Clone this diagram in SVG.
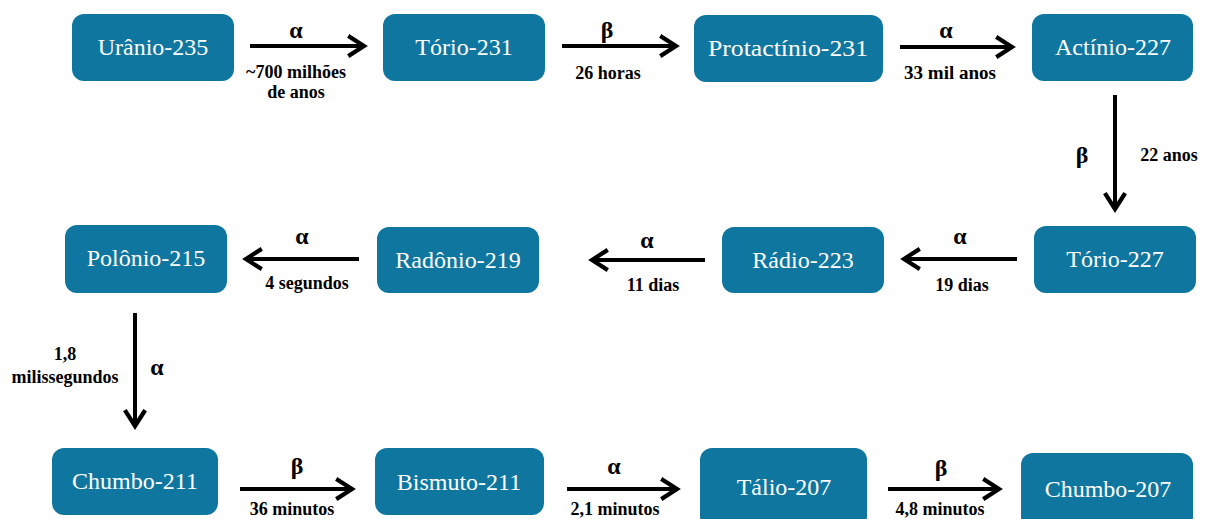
<svg xmlns="http://www.w3.org/2000/svg" width="1207" height="519" viewBox="0 0 1207 519">
<defs>
<marker id="ah" markerUnits="userSpaceOnUse" viewBox="-20 -12 24 24" refX="0" refY="0" markerWidth="24" markerHeight="24" orient="auto">
<path d="M-14,-9 L0,0 L-14,9" fill="none" stroke="#000" stroke-width="4.2" stroke-linecap="square" stroke-linejoin="miter"/>
</marker>
<style>
.box{fill:#0F76A0;}
.nt{fill:#fff;text-anchor:middle;}
.ar{stroke:#000;stroke-width:4;fill:none;marker-end:url(#ah);}
.gk{font-weight:bold;fill:#000;text-anchor:middle;}
.lb{font-weight:bold;fill:#000;text-anchor:middle;}
</style>
</defs>
<rect width="1207" height="519" fill="#fff"/>
<g id="n1"><rect class="box" x="72" y="14" width="162" height="67" rx="12"/><text class="nt" font-family="Liberation Serif" font-size="24" x="153" y="55">Urânio-235</text></g>
<g id="n2"><rect class="box" x="383" y="14" width="162" height="67" rx="12"/><text class="nt" font-family="Liberation Serif" font-size="24" x="464" y="55">Tório-231</text></g>
<g id="n3"><rect class="box" x="694" y="15" width="189" height="67" rx="12"/><text class="nt" font-family="Liberation Serif" font-size="24" x="788" y="56" textLength="160" lengthAdjust="spacingAndGlyphs">Protactínio-231</text></g>
<g id="n4"><rect class="box" x="1032" y="14" width="161" height="67" rx="12"/><text class="nt" font-family="Liberation Serif" font-size="24" x="1113" y="55">Actínio-227</text></g>
<g id="n5"><rect class="box" x="1034" y="226" width="162" height="67" rx="12"/><text class="nt" font-family="Liberation Serif" font-size="24" x="1115" y="267">Tório-227</text></g>
<g id="n6"><rect class="box" x="722" y="227" width="162" height="66" rx="12"/><text class="nt" font-family="Liberation Serif" font-size="24" x="803" y="268">Rádio-223</text></g>
<g id="n7"><rect class="box" x="377" y="227" width="162" height="66" rx="12"/><text class="nt" font-family="Liberation Serif" font-size="24" x="458" y="268">Radônio-219</text></g>
<g id="n8"><rect class="box" x="65" y="225" width="162" height="68" rx="12"/><text class="nt" font-family="Liberation Serif" font-size="24" x="146" y="266">Polônio-215</text></g>
<g id="n9"><rect class="box" x="52" y="448" width="166" height="67" rx="12"/><text class="nt" font-family="Liberation Serif" font-size="24" x="135" y="489">Chumbo-211</text></g>
<g id="n10"><rect class="box" x="375" y="448" width="169" height="67" rx="12"/><text class="nt" font-family="Liberation Serif" font-size="24" x="459" y="490">Bismuto-211</text></g>
<g id="n11"><rect class="box" x="700" y="448" width="167" height="80" rx="12"/><text class="nt" font-family="Liberation Serif" font-size="24" x="784" y="495">Tálio-207</text></g>
<g id="n12"><rect class="box" x="1021" y="453" width="172" height="76" rx="12"/><text class="nt" font-family="Liberation Serif" font-size="24" x="1108" y="497">Chumbo-207</text></g>
<g id="connectors">
<path class="ar" d="M250,46 H364"/>
<path class="ar" d="M562,46 H676"/>
<path class="ar" d="M900,47 H1012"/>
<path class="ar" d="M1115,95 V209"/>
<path class="ar" d="M1017,259 H904"/>
<path class="ar" d="M705,260 H592"/>
<path class="ar" d="M359,259 H246"/>
<path class="ar" d="M135,313 V426"/>
<path class="ar" d="M240,489 H352"/>
<path class="ar" d="M567,489 H677"/>
<path class="ar" d="M888,489 H999"/>
</g>
<g id="labels" font-family="Liberation Serif">
<text class="gk" font-family="Liberation Serif" font-size="24" x="296" y="38">α</text>
<text class="lb" font-family="Liberation Serif" font-size="18" x="296" y="78">~700 milhões</text>
<text class="lb" font-family="Liberation Serif" font-size="18" x="296" y="98">de anos</text>
<text class="gk" font-family="Liberation Serif" font-size="24" x="607" y="38">β</text>
<text class="lb" font-family="Liberation Serif" font-size="18" x="608" y="79">26 horas</text>
<text class="gk" font-family="Liberation Serif" font-size="24" x="946" y="38">α</text>
<text class="lb" font-family="Liberation Serif" font-size="18" x="950" y="79" textLength="92" lengthAdjust="spacingAndGlyphs">33 mil anos</text>
<text class="gk" font-family="Liberation Serif" font-size="24" x="1082" y="163">β</text>
<text class="lb" font-family="Liberation Serif" font-size="18" x="1169" y="161">22 anos</text>
<text class="gk" font-family="Liberation Serif" font-size="24" x="960" y="244">α</text>
<text class="lb" font-family="Liberation Serif" font-size="18" x="962" y="291">19 dias</text>
<text class="gk" font-family="Liberation Serif" font-size="24" x="647" y="248">α</text>
<text class="lb" font-family="Liberation Serif" font-size="18" x="653" y="291">11 dias</text>
<text class="gk" font-family="Liberation Serif" font-size="24" x="302" y="244">α</text>
<text class="lb" font-family="Liberation Serif" font-size="18" x="307" y="289">4 segundos</text>
<text class="gk" font-family="Liberation Serif" font-size="24" x="157" y="375">α</text>
<text class="lb" font-family="Liberation Serif" font-size="18" x="65" y="360">1,8</text>
<text class="lb" font-family="Liberation Serif" font-size="18" x="65" y="383">milissegundos</text>
<text class="gk" font-family="Liberation Serif" font-size="24" x="297" y="474">β</text>
<text class="lb" font-family="Liberation Serif" font-size="18" x="292" y="515">36 minutos</text>
<text class="gk" font-family="Liberation Serif" font-size="24" x="614" y="474">α</text>
<text class="lb" font-family="Liberation Serif" font-size="18" x="615" y="515">2,1 minutos</text>
<text class="gk" font-family="Liberation Serif" font-size="24" x="941" y="476">β</text>
<text class="lb" font-family="Liberation Serif" font-size="18" x="940" y="515">4,8 minutos</text>
</g>
</svg>
